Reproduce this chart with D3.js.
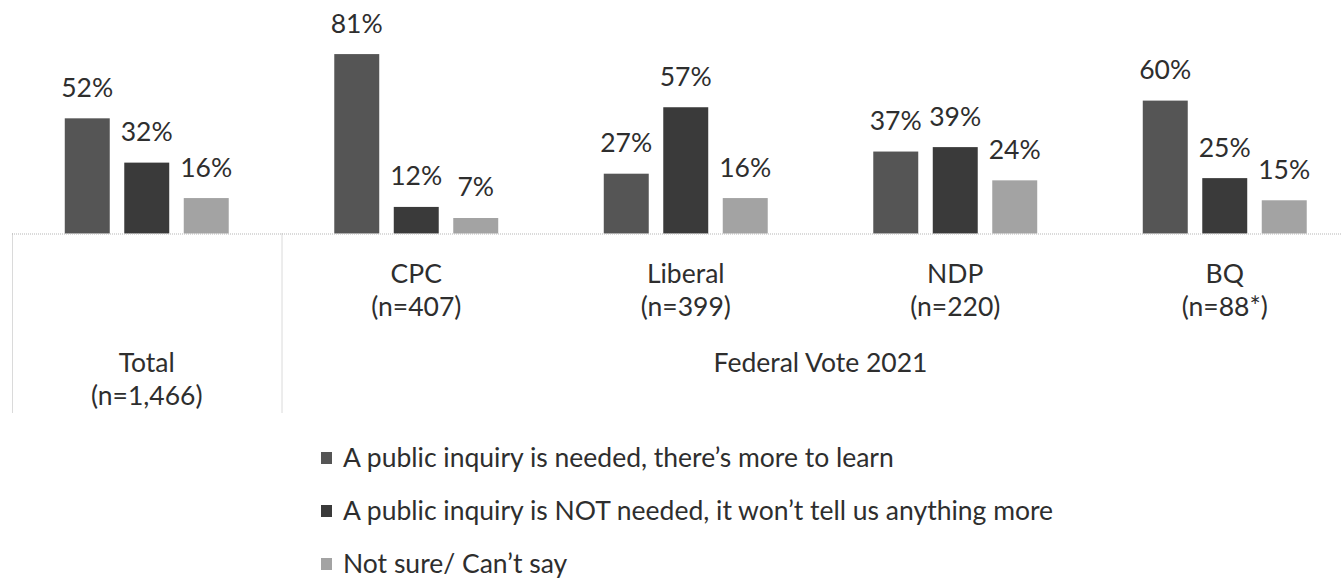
<!DOCTYPE html>
<html><head><meta charset="utf-8">
<script src="https://cdn.jsdelivr.net/npm/d3@7"></script>
<style>
html,body{margin:0;padding:0;background:#fff;}
svg{display:block;}
text{font-family:Lato,"Noto Sans",sans-serif;fill:#2e2e2e;}
</style></head>
<body>
<svg id="chart" width="1341" height="581"></svg>
<script>
const categories = ["Total","CPC","Liberal","NDP","BQ"];
const sampleSizes = ["(n=1,466)","(n=407)","(n=399)","(n=220)","(n=88*)"];
const groupLabel = "Federal Vote 2021";
const seriesNames = [
  "A public inquiry is needed, there\u2019s more to learn",
  "A public inquiry is NOT needed, it won\u2019t tell us anything more",
  "Not sure/ Can\u2019t say"
];
const needed    = [52, 81, 27, 37, 60];
const notNeeded = [32, 12, 57, 39, 25];
const notSure   = [16,  7, 16, 24, 15];
const seriesValues = [needed, notNeeded, notSure];
const colors = ["#555555", "#3a3a3a", "#a3a3a3"];

const svg = d3.select("#chart");
const baseY = 233.5;
const step = 269.5;
const x0 = 12;

const x = d3.scaleBand().domain(categories)
  .range([x0, x0 + step * categories.length]).padding(0);
const xs = d3.scaleBand().domain(d3.range(seriesNames.length))
  .range([0, x.bandwidth()]).paddingInner(0.244).paddingOuter(0.887);
const y = d3.scaleLinear().domain([0, 100]).range([baseY, 12]);

// bars
const groups = svg.append("g").selectAll("g").data(categories).join("g")
  .attr("transform", d => `translate(${x(d)},0)`);
groups.selectAll("rect").data((c, ci) => seriesValues.map((s, si) => ({si, v: s[ci]})))
  .join("rect")
  .attr("x", d => xs(d.si))
  .attr("width", xs.bandwidth())
  .attr("y", d => y(d.v))
  .attr("height", d => baseY - y(d.v))
  .attr("fill", d => colors[d.si]);
groups.selectAll("text.val").data((c, ci) => seriesValues.map((s, si) => ({si, v: s[ci]})))
  .join("text").attr("class", "val")
  .attr("x", d => xs(d.si) + xs.bandwidth() / 2)
  .attr("y", d => y(d.v) - 21.5)
  .attr("text-anchor", "middle")
  .style("font-size", "26.5px")
  .text(d => d.v + "%");

// axis lines
const dotted = {stroke: "#b5b5b5", "stroke-width": 1, "stroke-dasharray": "1,1"};
function line(x1, y1, x2, y2) {
  const l = svg.append("line").attr("x1", x1).attr("y1", y1).attr("x2", x2).attr("y2", y2);
  Object.entries(dotted).forEach(([k, v]) => l.attr(k, v));
}
line(x0, baseY + 0.5, 1341, baseY + 0.5);
line(x(categories[0]) + 0.5, baseY, x(categories[0]) + 0.5, 413);
line(x(categories[1]) + 0.5, baseY, x(categories[1]) + 0.5, 413);

// category labels
const catLbl = svg.append("g").selectAll("g").data(categories).join("g");
catLbl.append("text")
  .attr("x", d => x(d) + x.bandwidth() / 2)
  .attr("y", (d, i) => i === 0 ? 372 : 283)
  .attr("text-anchor", "middle").style("font-size", "26.5px")
  .text(d => d);
catLbl.append("text")
  .attr("x", d => x(d) + x.bandwidth() / 2)
  .attr("y", (d, i) => i === 0 ? 405 : 316)
  .attr("text-anchor", "middle").style("font-size", "26.5px")
  .text((d, i) => sampleSizes[i]);
svg.append("text")
  .attr("x", (x(categories[1]) + x(categories[categories.length - 1]) + x.bandwidth()) / 2)
  .attr("y", 372).attr("text-anchor", "middle").style("font-size", "26.5px")
  .text(groupLabel);

// legend
const leg = svg.append("g").selectAll("g").data(seriesNames).join("g")
  .attr("transform", (d, i) => `translate(321,${467 + i * 53})`);
leg.append("rect").attr("x", 0).attr("y", -15).attr("width", 11).attr("height", 12)
  .attr("fill", (d, i) => colors[i]);
leg.append("text").attr("x", 22).attr("y", 0).style("font-size", "26.5px").text(d => d);
</script>
</body></html>
